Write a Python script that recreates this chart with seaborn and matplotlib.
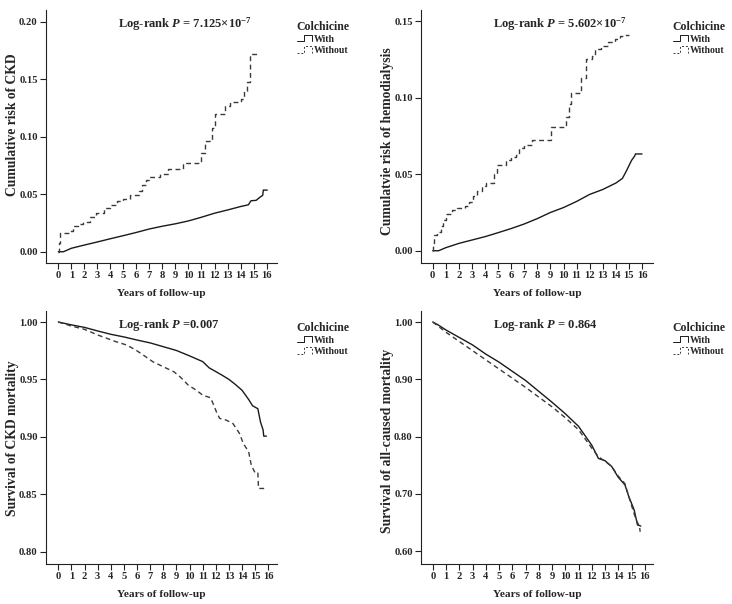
import numpy as np  # type: ignore
import pandas as pd  # type: ignore
import matplotlib  # type: ignore
matplotlib.use("Agg")
import matplotlib.pyplot as plt  # type: ignore
from matplotlib.lines import Line2D  # type: ignore
from matplotlib.legend_handler import HandlerLine2D  # type: ignore
import seaborn as sns  # type: ignore

# ---- data (years, value) ----
# A: cumulative risk of CKD
ckd_with_t = [0, 0.4, 1.0, 2.0, 3.0, 4.0, 5.0, 6.0, 7.0, 8.0, 9.0, 10.0, 11.0, 12.0, 13.0, 14.0,
              14.6, 14.8, 15.2, 15.5, 15.7, 15.75, 16.05]
ckd_with_v = [0, 0, 0.003, 0.0058, 0.0085, 0.0113, 0.0140, 0.0168, 0.0198, 0.0222, 0.0243, 0.0268, 0.0300,
              0.0335, 0.0363, 0.0393, 0.0408, 0.0443, 0.0447, 0.0475, 0.049, 0.0536, 0.0536]
ckd_without_t = [0, 0.05, 0.15, 0.8, 1.15, 1.5, 1.9, 2.4, 2.9, 3.5, 4.0, 4.5, 5.0, 5.5, 6.2, 6.45, 6.7,
                 7.0, 7.8, 8.4, 9.6, 11.0, 11.3, 11.8, 12.0, 12.8, 13.2, 14.0, 14.3, 14.5, 14.75, 15.35]
ckd_without_v = [0, 0.008, 0.016, 0.018, 0.022, 0.024, 0.026, 0.030, 0.034, 0.038, 0.041, 0.044, 0.046,
                 0.049, 0.053, 0.058, 0.062, 0.065, 0.068, 0.072, 0.077, 0.086, 0.096, 0.108, 0.120,
                 0.127, 0.130, 0.133, 0.140, 0.148, 0.172, 0.172]

# B: cumulative risk of hemodialysis
hd_with_t = [0, 0.45, 1.0, 2.0, 3.0, 4.0, 5.0, 6.0, 7.0, 8.0, 9.0, 10.0, 11.0, 12.0, 13.0, 14.0,
             14.5, 14.8, 15.0, 15.2, 15.45, 15.5, 16.0]
hd_with_v = [0, 0, 0.002, 0.0048, 0.007, 0.0092, 0.0118, 0.0145, 0.0175, 0.0210, 0.0250, 0.0282, 0.0322,
             0.0368, 0.0400, 0.0442, 0.0472, 0.052, 0.0555, 0.059, 0.062, 0.0632, 0.0632]
hd_without_t = [0, 0.05, 0.13, 0.3, 0.6, 0.8, 1.05, 1.45, 1.85, 2.5, 2.8, 3.05, 3.4, 3.75, 4.1, 4.7, 4.9,
                5.6, 6.0, 6.4, 6.6, 7.0, 7.6, 9.05, 10.2, 10.4, 10.55, 11.3, 11.7, 12.2, 12.4, 12.9,
                13.4, 13.9, 14.3, 14.6, 15.0]
hd_without_v = [0, 0.005, 0.010, 0.0125, 0.016, 0.020, 0.024, 0.0265, 0.028, 0.0295, 0.032, 0.036, 0.039,
                0.042, 0.044, 0.050, 0.056, 0.059, 0.061, 0.0625, 0.067, 0.069, 0.0725, 0.081, 0.0875,
                0.096, 0.103, 0.113, 0.125, 0.127, 0.132, 0.134, 0.136, 0.138, 0.140, 0.141, 0.141]

# C: survival of CKD mortality
ckdm_with_t = [0, 1, 2, 3, 4, 5, 6, 7, 8, 9, 10, 11, 11.5, 12, 12.5, 13, 13.5, 14, 14.5, 14.8,
               15.2, 15.4, 15.6, 15.65, 15.85]
ckdm_with_v = [1.0, 0.9975, 0.9953, 0.9922, 0.9893, 0.9870, 0.9843, 0.9818, 0.9785, 0.9752, 0.9705,
               0.9655, 0.960, 0.9568, 0.9535, 0.9500, 0.9455, 0.9405, 0.9325, 0.927, 0.9245, 0.913,
               0.906, 0.9006, 0.9006]
ckdm_without_t = [0, 1, 2, 3, 3.7, 4.4, 5.2, 5.9, 6.5, 7.2, 8.0, 8.8, 9.3, 9.9, 10.5, 11.0, 11.6, 11.9,
                  12.1, 12.3, 12.8, 13.3, 13.8, 14.1, 14.5, 14.7, 14.95, 15.2, 15.25, 15.85]
ckdm_without_v = [1.0, 0.9965, 0.9936, 0.9887, 0.9858, 0.9828, 0.980, 0.9756, 0.971, 0.9654, 0.961,
                  0.9567, 0.952, 0.945, 0.9407, 0.9363, 0.934, 0.926, 0.920, 0.916, 0.9145, 0.9116,
                  0.903, 0.894, 0.887, 0.8753, 0.8695, 0.8695, 0.855, 0.855]

# D: survival of all-caused mortality
acm_with_t = [0, 0.4, 1, 2, 3, 4, 5, 6, 7, 8, 9, 10, 11, 12, 12.5, 13, 13.5, 14, 14.5, 14.8, 15.2,
              15.45, 15.7]
acm_with_v = [1.0, 0.995, 0.986, 0.973, 0.960, 0.944, 0.930, 0.914, 0.898, 0.879, 0.860, 0.840, 0.818,
              0.785, 0.762, 0.758, 0.748, 0.729, 0.716, 0.695, 0.672, 0.646, 0.644]
acm_without_t = [0, 0.5, 1, 2, 3, 4, 5, 6, 7, 8, 9, 10, 11, 12, 12.5, 13, 13.5, 14, 14.5, 14.8, 15.2,
                 15.4, 15.6, 15.65]
acm_without_v = [1.0, 0.991, 0.982, 0.966, 0.950, 0.934, 0.918, 0.902, 0.886, 0.869, 0.852, 0.833,
                 0.812, 0.780, 0.765, 0.757, 0.748, 0.731, 0.718, 0.695, 0.665, 0.652, 0.644, 0.634]

ylabels = ["Cumulative risk of CKD", "Cumulatvie risk of hemodialysis",
           "Survival of CKD mortality", "Survival of all-caused mortality"]
pvalues = [r"Log-rank $P$ = 7.125$\times$10$^{-7}$", r"Log-rank $P$ = 5.602$\times$10$^{-7}$",
           r"Log-rank $P$ =0.007", r"Log-rank $P$ = 0.864"]
yticks = [[0, 0.05, 0.10, 0.15, 0.20], [0, 0.05, 0.10, 0.15],
          [0.80, 0.85, 0.90, 0.95, 1.00], [0.60, 0.70, 0.80, 0.90, 1.00]]
groups = ["With", "Without"]

sns.set_style("ticks")
plt.rcParams["font.family"] = ["Liberation Serif", "DejaVu Serif"]
plt.rcParams["font.weight"] = "bold"
plt.rcParams["axes.labelweight"] = "bold"
plt.rcParams["mathtext.fontset"] = "custom"
plt.rcParams["mathtext.rm"] = "Liberation Serif:bold"
plt.rcParams["mathtext.it"] = "Liberation Serif:bold:italic"
plt.rcParams["mathtext.bf"] = "Liberation Serif:bold"


class StepHandler(HandlerLine2D):
    # little step icon like SPSS uses
    def create_artists(self, legend, orig_handle, xdescent, ydescent, width, height, fontsize, trans):
        x0 = -xdescent
        x1 = x0 + width
        xm = x0 + 0.45 * width
        y0 = -ydescent + 0.1 * height
        y1 = -ydescent + 0.95 * height
        line = Line2D([x0, xm, xm, x1, x1], [y0, y0, y1, y1, y0])
        self.update_prop(line, orig_handle, legend)
        line.set_transform(trans)
        return [line]


fig = plt.figure(figsize=(7.32, 6.04), dpi=100)

# axes rectangles in pixels: left, right, top, bottom
boxes = [(46, 277, 10, 263), (421, 653, 10, 263), (46, 277, 311, 564), (421, 653, 311, 564)]
xlims = [(-0.945, 16.8), (-0.895, 16.84), (-0.94, 16.66), (-0.89, 16.62)]
ylims = [(-0.0098, 0.2102), (-0.008, 0.1572), (0.7892, 1.0096), (0.5778, 1.0192)]
ylabel_pos = [(-0.118, 0.545), (-0.117, 0.482), (-0.118, 0.497), (-0.117, 0.487)]
series = [(ckd_with_t, ckd_with_v, ckd_without_t, ckd_without_v, "steps-post"),
          (hd_with_t, hd_with_v, hd_without_t, hd_without_v, "steps-post"),
          (ckdm_with_t, ckdm_with_v, ckdm_without_t, ckdm_without_v, "default"),
          (acm_with_t, acm_with_v, acm_without_t, acm_without_v, "default")]

W, H = 732, 604
for i in range(4):
    l, r, t, b = boxes[i]
    ax = fig.add_axes([l / W, (H - b) / H, (r - l) / W, (b - t) / H])
    wt, wv, ot, ov, ds = series[i]
    df_with = pd.DataFrame({"years": wt, "value": wv})
    df_without = pd.DataFrame({"years": ot, "value": ov})
    sns.lineplot(data=df_with, x="years", y="value", ax=ax, color="#1a1a1a", lw=1.0,
                 estimator=None, sort=False)
    sns.lineplot(data=df_without, x="years", y="value", ax=ax, color="#3a3a3a", lw=1.0,
                 estimator=None, sort=False, drawstyle=ds, dashes=(3.5, 2.5))

    ax.set_xlim(*xlims[i])
    ax.set_ylim(*ylims[i])
    ax.set_xticks(range(17))
    ax.set_yticks(yticks[i])
    ax.set_yticklabels([f"{v:.2f}" for v in yticks[i]])
    ax.tick_params(axis="both", labelsize=7.6, length=4, width=0.8, color="#222222", pad=2)
    for s in ["left", "bottom"]:
        ax.spines[s].set_linewidth(0.8)
        ax.spines[s].set_color("#222222")
    sns.despine(ax=ax)
    ax.set_xlabel("Years of follow-up", fontsize=8.2, labelpad=6)
    ax.set_ylabel(ylabels[i], fontsize=9.8)
    ax.yaxis.set_label_coords(*ylabel_pos[i])
    ax.text(0.31, 0.945, pvalues[i], transform=ax.transAxes, fontsize=9.0,
            ha="left", va="center", fontweight="bold")

    handles = [Line2D([], [], color="#1a1a1a", lw=0.7, ls="-"),
               Line2D([], [], color="#3a3a3a", lw=0.7, ls=(0, (2, 2)))]
    leg = ax.legend(handles, groups, title="Colchicine", handler_map={Line2D: StepHandler()},
                    loc="upper left", bbox_to_anchor=((r + 15) / W, (H - t - 6) / H),
                    bbox_transform=fig.transFigure, frameon=False, fontsize=7.0,
                    title_fontsize=8.5, borderpad=0, handlelength=1.6, handleheight=0.8,
                    handletextpad=0.1, labelspacing=0.2, alignment="left")
    leg.get_title().set_fontweight("bold")

fig.savefig("out.png", dpi=100)
